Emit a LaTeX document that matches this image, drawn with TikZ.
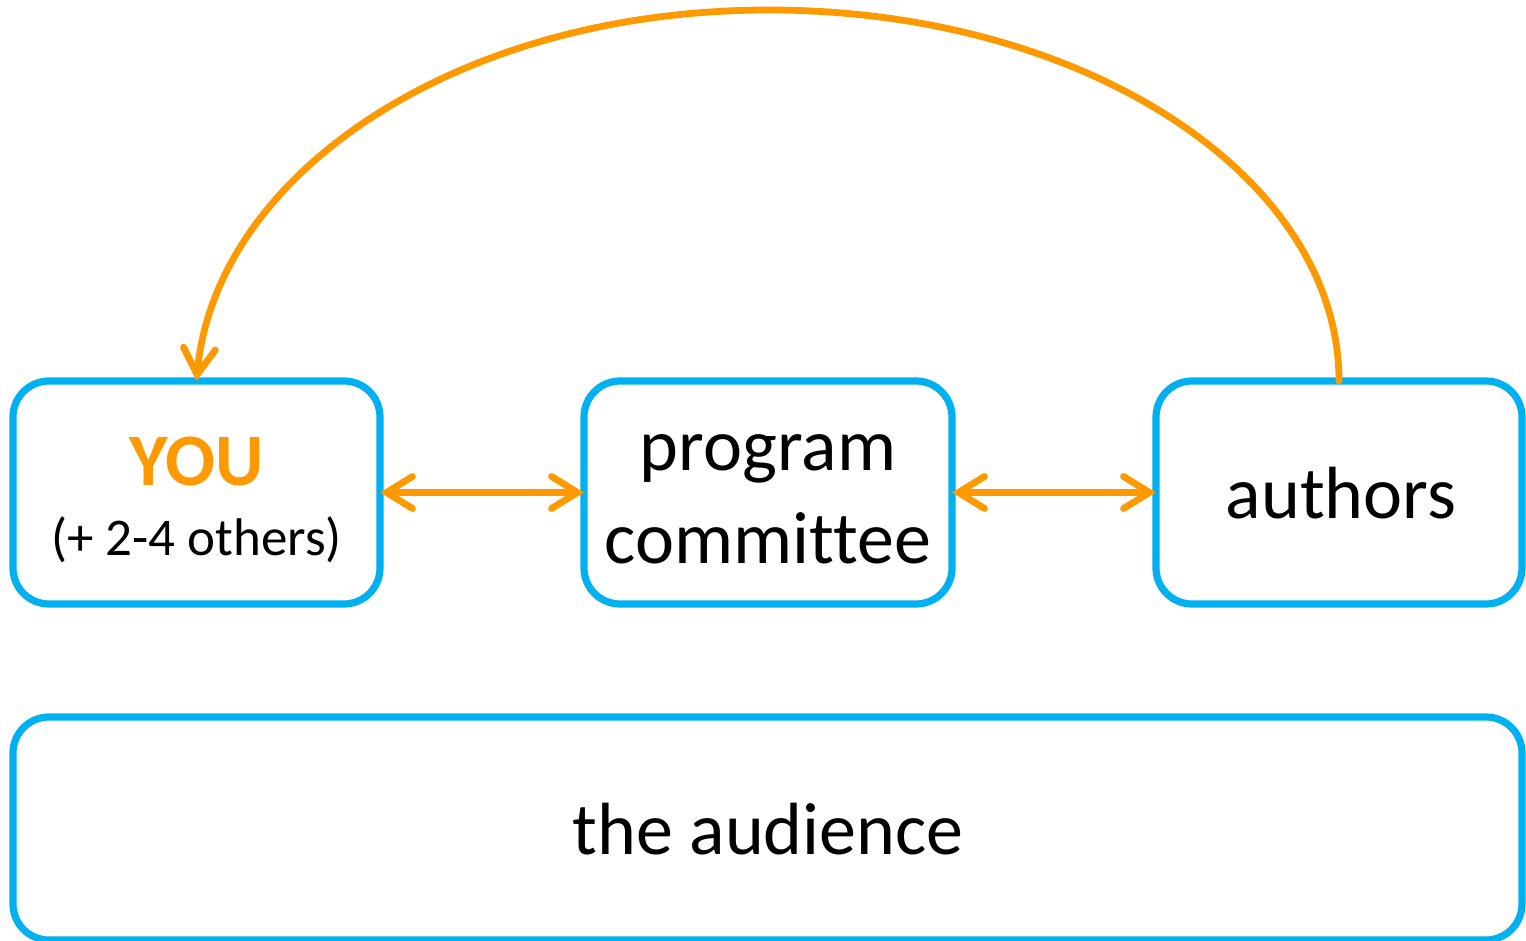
\documentclass[tikz,border=0pt]{standalone}
\usepackage{fontspec}
\setmainfont[Ligatures=NoCommon]{Carlito}
\usetikzlibrary{arrows.meta}
\definecolor{boxblue}{RGB}{0,176,240}
\definecolor{arrorange}{RGB}{255,153,0}
\begin{document}
\begin{tikzpicture}[x=0.5pt,y=-0.5pt,
  box/.style={draw=boxblue, line width=3.6pt, rounded corners=18pt, outer sep=0pt, inner sep=0pt, fill=white, minimum height=111.5pt},
  lbl/.style={anchor=base, inner sep=0pt, font=\fontsize{37}{44}\selectfont},
  link/.style={draw=arrorange, line width=3.4pt, line cap=round},
  >={Straight Barb[length=13pt,width=16pt,line cap=round]}]
\path[use as bounding box] (0,0) rectangle (1526,941);
\node[box, minimum width=183.5pt] (you) at (196.5,492.5) {};
\node[box, minimum width=184pt] (pc) at (768,492.5) {};
\node[box, minimum width=183pt] (authors) at (1339,492.5) {};
\node[box, minimum width=754.5pt] (audience) at (767.5,828.5) {};
\node[lbl, font=\fontsize{37}{44}\selectfont\bfseries, text=arrorange] (youtxt) at (196.5,485) {YOU};
\node[lbl, font=\fontsize{26.5}{30}\selectfont] (others) at (196.5,555) {(+ 2-4 others)};
\node[lbl] (prog) at (768,470) {program};
\node[lbl] (comm) at (768,563) {committee};
\node[lbl] (auth) at (1341,518) {authors};
\node[lbl] (aud) at (768,854) {the audience};
\coordinate (top) at (769,10);
\draw[link, <->] (you.east) -- (pc.west);
\draw[link, <->] (pc.east) -- (authors.west);
\draw[link, ->] (authors.north) .. controls (1339,176) and (1084,10) .. (top)
  .. controls (454,10) and (215,176) .. (you.north);
\end{tikzpicture}
\end{document}
